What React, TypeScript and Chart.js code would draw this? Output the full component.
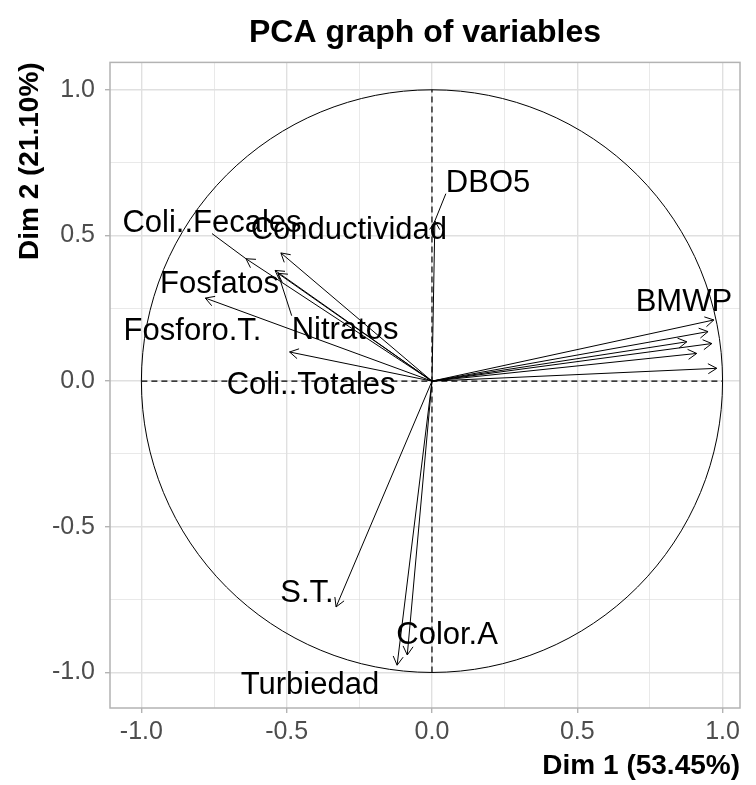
import React, { useEffect, useRef } from "react";
import { Chart, registerables } from "chart.js";

Chart.register(...registerables);

// ---- Data ----
const variableNames = [
  "DBO5",
  "Conductividad",
  "Coli..Fecales",
  "Fosfatos",
  "Nitratos",
  "Fosforo.T.",
  "Coli..Totales",
  "BMWP",
  "S.T.",
  "Color.A",
  "Turbiedad",
];
const dim1Coords = [0.01, -0.52, -0.64, -0.54, -0.53, -0.78, -0.49, 0.97, -0.33, -0.085, -0.12];
const dim2Coords = [0.55, 0.44, 0.42, 0.38, 0.37, 0.285, 0.1, 0.21, -0.775, -0.94, -0.975];

// label anchor positions (data units, as placed by the repel algorithm)
const labelDim1 = [0.193, -0.286, -0.757, -0.731, -0.299, -0.824, -0.416, 0.867, -0.43, 0.052, -0.42];
const labelDim2 = [0.686, 0.525, 0.549, 0.34, 0.182, 0.178, -0.007, 0.278, -0.72, -0.864, -1.036];

// arrows in the BMWP cluster whose labels were dropped
const hiddenDim1 = [0.95, 0.877, 0.963, 0.911, 0.98];
const hiddenDim2 = [0.17, 0.135, 0.129, 0.095, 0.044];

const xRange = [-1.108, 1.06];
const yRange = [-1.122, 1.094];
const refLine = [-1, 1];
const gridValues = [-1, -0.75, -0.5, -0.25, 0, 0.25, 0.5, 0.75, 1];
const majorValues = [-1, -0.5, 0, 0.5, 1];
const tickLabels = ["-1.0", "-0.5", "0.0", "0.5", "1.0"];

const chartTitle = "PCA graph of variables";
const xTitle = "Dim 1 (53.45%)";
const yTitle = "Dim 2 (21.10%)";

const FAMILY = '"Liberation Sans", Arial, Helvetica, sans-serif';
const LABEL_SIZE = 31;

const isMajor = (v: number) => majorValues.some((m) => Math.abs(m - v) < 1e-9);

const pcaPlugin = {
  id: "pcaDecor",
  beforeDatasetsDraw(chart: any) {
    const { ctx, scales } = chart;
    const x = scales.x;
    const y = scales.y;
    const cx = x.getPixelForValue(0);
    const cy = y.getPixelForValue(0);
    const rx = x.getPixelForValue(1) - cx;
    const ry = cy - y.getPixelForValue(1);
    ctx.save();
    ctx.beginPath();
    ctx.ellipse(cx, cy, rx, ry, 0, 0, Math.PI * 2);
    ctx.strokeStyle = "#000";
    ctx.lineWidth = 1;
    ctx.stroke();
    ctx.restore();
  },
  afterDatasetsDraw(chart: any) {
    const { ctx, scales } = chart;
    const x = scales.x;
    const y = scales.y;
    const ox = x.getPixelForValue(0);
    const oy = y.getPixelForValue(0);
    const tipsX = [...dim1Coords, ...hiddenDim1];
    const tipsY = [...dim2Coords, ...hiddenDim2];
    ctx.save();
    ctx.strokeStyle = "#000";
    ctx.lineWidth = 1;
    const L = 10;
    const ang = Math.PI / 6;
    for (let i = 0; i < tipsX.length; i++) {
      const px = x.getPixelForValue(tipsX[i]);
      const py = y.getPixelForValue(tipsY[i]);
      const a = Math.atan2(py - oy, px - ox);
      ctx.beginPath();
      ctx.moveTo(px - L * Math.cos(a - ang), py - L * Math.sin(a - ang));
      ctx.lineTo(px, py);
      ctx.lineTo(px - L * Math.cos(a + ang), py - L * Math.sin(a + ang));
      ctx.stroke();
    }
    // labels + leader segments
    ctx.font = `${LABEL_SIZE}px ${FAMILY}`;
    ctx.textAlign = "center";
    ctx.textBaseline = "alphabetic";
    ctx.fillStyle = "#000";
    for (let i = 0; i < variableNames.length; i++) {
      const lx = x.getPixelForValue(labelDim1[i]);
      const ly = y.getPixelForValue(labelDim2[i]);
      const w = ctx.measureText(variableNames[i]).width;
      const hh = LABEL_SIZE * 0.4;
      const x0 = lx - w / 2, x1 = lx + w / 2, y0 = ly - hh, y1 = ly + hh;
      const px = x.getPixelForValue(dim1Coords[i]);
      const py = y.getPixelForValue(dim2Coords[i]);
      const nx = Math.max(x0, Math.min(px, x1));
      const ny = Math.max(y0, Math.min(py, y1));
      const dist = Math.hypot(px - nx, py - ny);
      if (dist > 20) {
        const cands = [
          [x0, y0], [lx, y0], [x1, y0],
          [x0, ly], [x1, ly],
          [x0, y1], [lx, y1], [x1, y1],
        ];
        let best = cands[0];
        let bd = Infinity;
        for (const c of cands) {
          const d = Math.hypot(c[0] - px, c[1] - py);
          if (d < bd) { bd = d; best = c; }
        }
        ctx.beginPath();
        ctx.moveTo(px, py);
        ctx.lineTo(best[0], best[1]);
        ctx.stroke();
      }
      ctx.fillText(variableNames[i], lx, ly + LABEL_SIZE * 0.36);
    }
    ctx.restore();
  },
  afterDraw(chart: any) {
    const { ctx, chartArea } = chart;
    ctx.save();
    ctx.strokeStyle = "#b3b3b3";
    ctx.lineWidth = 1.5;
    ctx.strokeRect(chartArea.left, chartArea.top, chartArea.right - chartArea.left, chartArea.bottom - chartArea.top);
    ctx.restore();
  },
};

function makeScale(axis: "x" | "y") {
  const range = axis === "x" ? xRange : yRange;
  return {
    type: "linear" as const,
    min: range[0],
    max: range[1],
    afterBuildTicks: (s: any) => {
      s.ticks = gridValues.map((v) => ({ value: v }));
    },
    afterFit: (s: any) => {
      if (axis === "x") s.height = 77;
      else s.width = 110;
    },
    border: { display: false },
    grid: {
      color: "#e0e0e0",
      lineWidth: (c: any) => (c.tick && isMajor(c.tick.value) ? 1.4 : 0.7),
      drawTicks: true,
      tickLength: 5,
      tickWidth: 1.4,
      tickColor: (c: any) => (c.tick && isMajor(c.tick.value) ? "#b3b3b3" : "rgba(0,0,0,0)"),
    },
    ticks: {
      autoSkip: false,
      maxRotation: 0,
      color: "#4d4d4d",
      padding: axis === "x" ? 4 : 10,
      font: { size: 25, family: FAMILY },
      callback: (v: any) => {
        const i = majorValues.findIndex((m) => Math.abs(m - Number(v)) < 1e-9);
        return i >= 0 ? tickLabels[i] : "";
      },
    },
    title: {
      display: true,
      text: axis === "x" ? xTitle : yTitle,
      align: "end" as const,
      color: "#000",
      font: { size: 28, weight: "bold" as const, family: FAMILY },
      padding: axis === "x" ? { top: 0, bottom: 2 } : { top: 13, bottom: 0 },
    },
  };
}

export default function App() {
  const ref = useRef<HTMLCanvasElement | null>(null);
  useEffect(() => {
    document.body.style.margin = "0";
    const canvas = ref.current;
    if (!canvas) return;
    const lineStyle = { showLine: true, pointRadius: 0, borderColor: "#000", borderWidth: 1, fill: false };
    const arrowSets = [...dim1Coords, ...hiddenDim1].map((vx, i) => {
      const vy = i < dim2Coords.length ? dim2Coords[i] : hiddenDim2[i - dim2Coords.length];
      return { ...lineStyle, data: [{ x: 0, y: 0 }, { x: vx, y: vy }] };
    });
    const chart = new Chart(canvas, {
      type: "scatter",
      data: {
        datasets: [
          { ...lineStyle, borderDash: [6, 4], borderWidth: 1.2, data: [{ x: refLine[0], y: 0 }, { x: refLine[1], y: 0 }] },
          { ...lineStyle, borderDash: [6, 4], borderWidth: 1.2, data: [{ x: 0, y: refLine[0] }, { x: 0, y: refLine[1] }] },
          ...arrowSets,
        ] as any,
      },
      options: {
        responsive: false,
        animation: false,
        events: [],
        layout: { padding: { left: 0, right: 16, top: 0, bottom: 0 } },
        plugins: {
          legend: { display: false },
          tooltip: { enabled: false },
          title: {
            display: true,
            text: chartTitle,
            fullSize: false,
            color: "#000",
            font: { size: 32, weight: "bold", family: FAMILY },
            padding: { top: 14, bottom: 10 },
          },
        },
        scales: { x: makeScale("x"), y: makeScale("y") } as any,
      },
      plugins: [pcaPlugin],
    });
    return () => chart.destroy();
  }, []);
  return <canvas ref={ref} width={756} height={785} style={{ display: "block" }} />;
}
